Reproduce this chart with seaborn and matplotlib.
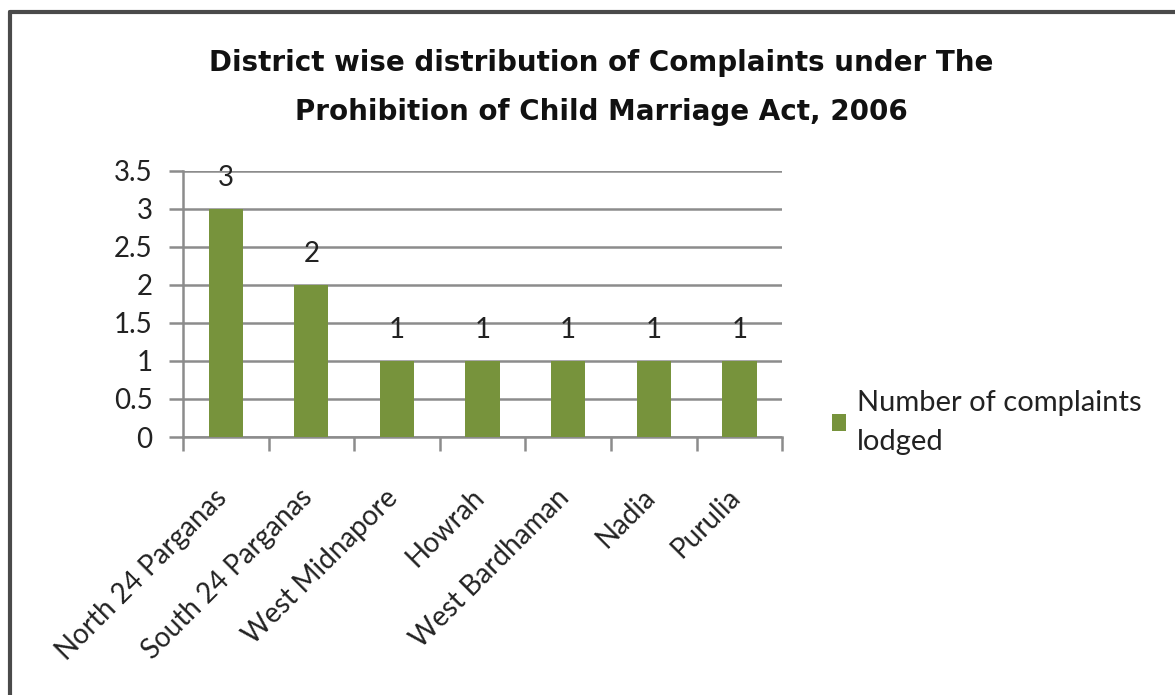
import matplotlib
matplotlib.use('Agg')
import matplotlib.pyplot as plt
import matplotlib.transforms as mtransforms
import seaborn as sns
import pandas as pd
from matplotlib.lines import Line2D
from matplotlib.patches import Patch

# data
districts = ['North 24 Parganas', 'South 24 Parganas', 'West Midnapore', 'Howrah',
             'West Bardhaman', 'Nadia', 'Purulia']
complaints = [3, 2, 1, 1, 1, 1, 1]
y_ticks = [0, 0.5, 1, 1.5, 2, 2.5, 3, 3.5]
y_tick_labels = ['0', '0.5', '1', '1.5', '2', '2.5', '3', '3.5']
series_name = 'Number of complaints\nlodged'
title_lines = ['District wise distribution of Complaints under The',
               'Prohibition of Child Marriage Act, 2006']

df = pd.DataFrame({'district': districts, 'count': complaints})

sns.set_theme(style='white')
plt.rcParams['font.family'] = ['Lato', 'DejaVu Sans']

bar_color = '#77933C'
grid_color = '#8C8C8C'
text_color = '#222222'

fig = plt.figure(figsize=(11.75, 6.95), dpi=100)
ax = fig.add_axes([0.1557, 0.3712, 0.51, 0.383])

sns.barplot(data=df, x='district', y='count', color=bar_color, width=0.4,
            saturation=1, linewidth=0, ax=ax, zorder=3)

ax.set_ylim(0, 3.5)
ax.set_xlim(-0.5, len(districts) - 0.5)
ax.set_yticks(y_ticks)
ax.set_yticklabels(y_tick_labels, fontsize=20)
ax.yaxis.grid(True, color=grid_color, linewidth=1.8, zorder=0)
ax.set_axisbelow(True)
ax.set_xlabel('')
ax.set_ylabel('')

# spines
for s in ['top', 'right']:
    ax.spines[s].set_visible(False)
for s in ['left', 'bottom']:
    ax.spines[s].set_color(grid_color)
    ax.spines[s].set_linewidth(1.8)

ax.tick_params(axis='y', which='major', left=True, length=10, width=1.8,
               color=grid_color, pad=12, labelcolor=text_color)

# x tick marks sit between categories, like Excel
ax.set_xticks([i - 0.5 for i in range(len(districts) + 1)], minor=True)
ax.tick_params(axis='x', which='minor', bottom=True, length=10, width=1.8,
               color=grid_color)
ax.tick_params(axis='x', which='major', bottom=False, pad=28)
ax.set_xticklabels(districts, rotation=45, ha='right', rotation_mode='anchor',
                   fontsize=20, color=text_color)
shift = mtransforms.ScaledTranslation(-12 / 100, 0, fig.dpi_scale_trans)
for lbl in ax.get_xticklabels():
    lbl.set_transform(lbl.get_transform() + shift)

# value labels above bars
for p, v in zip(ax.patches, complaints):
    ax.annotate(f'{v}', (p.get_x() + p.get_width() / 2, p.get_height()),
                xytext=(0, 22), textcoords='offset points',
                ha='center', va='center', fontsize=20, color=text_color)

# title
title_font = ['DejaVu Sans']
fig.text(0.512, 0.91, title_lines[0], ha='center', va='center', family=title_font,
         fontsize=20, fontweight='bold', color='#111111')
fig.text(0.512, 0.839, title_lines[1], ha='center', va='center', family=title_font,
         fontsize=20, fontweight='bold', color='#111111')

# legend
handle = Patch(facecolor=bar_color, edgecolor='none')
leg = fig.legend([handle], [series_name], loc='center left',
                 bbox_to_anchor=(0.698, 0.392), frameon=False, fontsize=21,
                 handlelength=0.5, handleheight=0.5, handletextpad=0.35,
                 borderaxespad=0)
for t in leg.get_texts():
    t.set_linespacing(1.6)
    t.set_color(text_color)

# chart frame (top and left visible)
fig.add_artist(Line2D([0.0085, 0.0085], [0, 0.983], transform=fig.transFigure,
                      color='#4A4A4A', linewidth=3))
fig.add_artist(Line2D([0.0085, 1], [0.983, 0.983], transform=fig.transFigure,
                      color='#4A4A4A', linewidth=3))

fig.savefig('out.png', dpi=100)
